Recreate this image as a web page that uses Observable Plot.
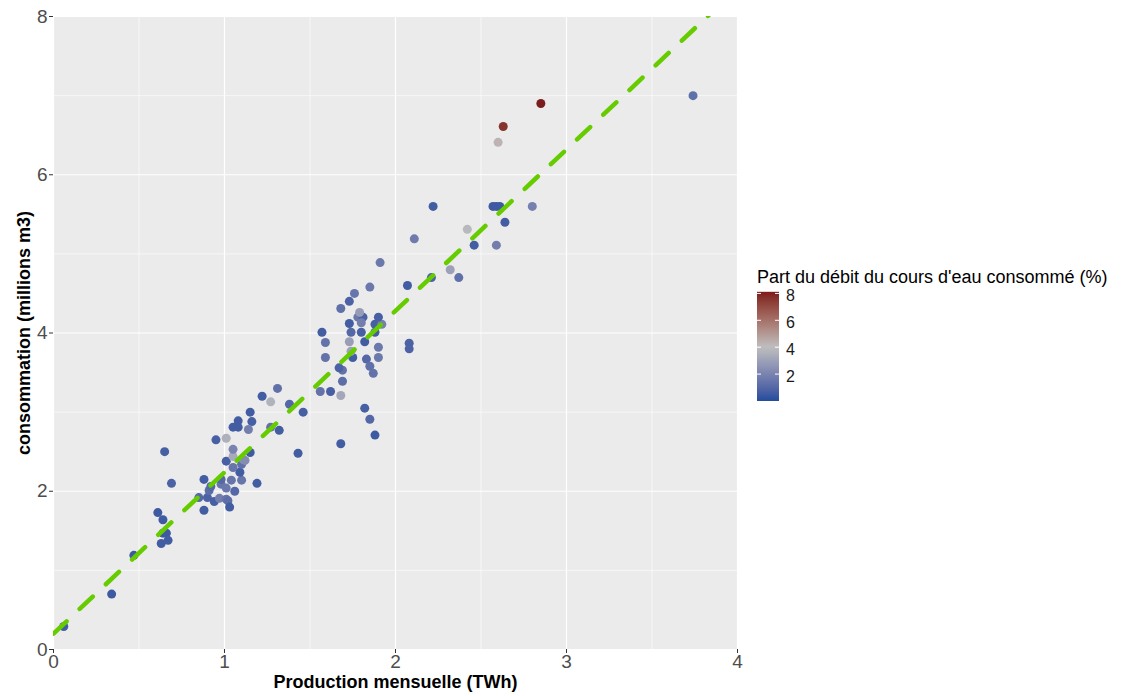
<!DOCTYPE html>
<html><head><meta charset="utf-8">
<script src="https://cdn.jsdelivr.net/npm/d3@7"></script>
<script src="https://cdn.jsdelivr.net/npm/@observablehq/plot@0.6"></script>
<style>
body{margin:0;background:#fff;font-family:"Liberation Sans",Arial,sans-serif;}
#wrap{position:relative;width:1122px;height:696px;overflow:hidden;}
#wrap svg{position:absolute;left:0;top:0;}
</style></head><body><div id="wrap"></div>
<script>
// Data
const production = [0.06,0.34,0.47,0.61,0.64,0.64,0.66,0.63,0.67,0.65,0.69,0.88,0.90,0.88,0.85,0.91,0.92,0.94,0.95,1.01,
 0.98,0.98,0.97,1.01,1.02,1.01,1.03,1.04,1.06,1.10,1.09,1.05,1.10,1.01,1.05,1.11,1.12,1.05,1.15,1.19,
 1.08,1.05,1.08,1.16,1.15,1.14,1.22,1.27,1.31,1.27,1.32,1.38,1.46,1.43,1.56,1.62,1.68,1.69,1.69,1.67,
 1.68,1.82,1.85,1.88,1.59,1.75,1.83,1.85,1.87,1.90,1.90,1.74,1.73,1.82,1.59,1.57,1.74,1.80,1.88,1.73,
 1.88,1.92,1.90,1.78,1.81,1.80,1.79,1.68,1.73,1.76,1.85,1.91,2.07,2.08,2.08,2.11,2.21,2.22,2.32,2.37,
 2.42,2.46,2.59,2.57,2.59,2.61,2.64,2.80,2.60,2.63,2.85,3.74];
const consommation = [0.29,0.70,1.19,1.73,1.64,1.47,1.47,1.34,1.38,2.50,2.10,2.15,1.92,1.76,1.92,2.01,2.06,1.87,2.65,2.67,
 2.09,2.15,1.91,1.90,1.88,2.04,1.80,2.14,2.00,2.14,2.24,2.30,2.34,2.38,2.44,2.40,2.39,2.53,2.49,2.10,
 2.89,2.81,2.81,2.88,3.00,2.78,3.20,3.13,3.30,2.81,2.77,3.10,3.00,2.48,3.26,3.26,3.21,3.39,3.53,3.56,
 2.60,3.05,2.91,2.71,3.69,3.69,3.67,3.58,3.49,3.69,3.82,3.77,3.89,3.89,3.88,4.01,4.01,4.01,4.01,4.12,
 4.11,4.11,4.20,4.20,4.20,4.13,4.26,4.31,4.40,4.50,4.58,4.89,4.60,3.87,3.80,5.19,4.70,5.60,4.80,4.70,
 5.31,5.11,5.11,5.60,5.60,5.60,5.40,5.60,6.41,6.61,6.90,7.00];
const partConsommee = [0.6,0.5,0.5,0.5,0.5,0.5,0.5,0.6,0.6,0.7,0.8,0.6,0.8,0.6,1.0,1.2,1.0,0.7,0.7,3.5,
 1.5,1.0,1.8,1.5,1.2,1.6,0.6,1.5,1.0,1.5,0.6,1.5,1.3,0.7,3.3,2.5,2.3,2.0,0.5,0.6,
 0.6,0.6,0.6,0.7,0.6,1.8,0.6,3.6,1.3,1.3,0.6,1.0,0.7,0.6,1.4,0.7,3.2,1.2,1.4,0.8,
 0.6,0.7,1.0,0.5,1.4,0.6,1.0,1.3,1.4,1.6,1.6,3.0,2.9,0.6,1.4,0.6,1.0,0.7,0.6,0.6,
 0.7,1.9,0.7,1.6,0.8,1.8,2.8,1.3,0.8,1.5,1.6,1.6,0.6,0.8,0.8,1.7,0.8,0.6,3.0,1.3,
 3.8,0.6,1.8,0.5,0.5,0.5,0.6,1.9,4.3,7.6,8.1,1.3];
const fitX = [0, 4];
const fitY = [0.2, 0.2 + 2.04 * 4];
const xTicks = [0, 1, 2, 3, 4];
const yTicks = [0, 2, 4, 6, 8];
const xMinor = [0.5, 1.5, 2.5, 3.5];
const yMinor = [1, 3, 5, 7];
const legendTicks = [2, 4, 6, 8];
const xTitle = "Production mensuelle (TWh)";
const yTitle = "consommation (millions m3)";
const legendTitle = "Part du débit du cours d'eau consommé (%)";

const points = production.map((x, i) => ({x, y: consommation[i], c: partConsommee[i]}));
const fit = fitX.map((x, i) => ({x, y: fitY[i]}));

const colorOpts = {type: "linear", domain: [0, 4, 8.12], range: ["#214d9d", "#bfbfbf", "#7c1c1c"], interpolate: "lab"};

const chart = Plot.plot({
  width: 1122, height: 696,
  marginLeft: 53, marginRight: 385, marginTop: 16, marginBottom: 47,
  style: {fontFamily: "'Liberation Sans', Arial, sans-serif", background: "transparent"},
  x: {domain: [0, 4]},
  y: {domain: [0, 8]},
  color: colorOpts,
  marks: [
    Plot.frame({fill: "#ebebeb", stroke: null}),
    Plot.gridX(xMinor, {stroke: "#ffffff", strokeOpacity: 1, strokeWidth: 0.6}),
    Plot.gridY(yMinor, {stroke: "#ffffff", strokeOpacity: 1, strokeWidth: 0.6}),
    Plot.gridX(xTicks, {stroke: "#ffffff", strokeOpacity: 1, strokeWidth: 1.2}),
    Plot.gridY(yTicks, {stroke: "#ffffff", strokeOpacity: 1, strokeWidth: 1.2}),
    Plot.axisX({ticks: xTicks, tickFormat: d3.format("d"), tickSize: 4, tickPadding: 1, fontSize: 19, color: "#4d4d4d", stroke: "#333", label: null}),
    Plot.axisY({ticks: yTicks, tickFormat: d3.format("d"), tickSize: 4, tickPadding: 2, fontSize: 19, color: "#4d4d4d", stroke: "#333", label: null}),
    Plot.dot(points, {x: "x", y: "y", fill: "c", r: 4.5, stroke: null}),
    Plot.line(fit, {x: "x", y: "y", stroke: "#66cc00", strokeWidth: 4.5, strokeDasharray: "18 18", clip: "frame"}),
    Plot.text([xTitle], {text: d => d, frameAnchor: "bottom", textAnchor: "middle", dy: 38, fontWeight: "bold", fontSize: 18, fill: "#000"}),
    Plot.text([yTitle], {text: d => d, frameAnchor: "left", textAnchor: "middle", dx: -29, rotate: -90, fontWeight: "bold", fontSize: 18, fill: "#000"})
  ]
});
document.getElementById("wrap").appendChild(chart);

// Colour bar legend (vertical, ggplot style)
const cs = Plot.scale({color: colorOpts});
const ly = d3.scaleLinear().domain([0, 8.12]).range([401, 291.8]);
const svg = d3.select("#wrap").append("svg").attr("width", 1122).attr("height", 696)
  .style("font-family", "'Liberation Sans', Arial, sans-serif");
const grad = svg.append("defs").append("linearGradient").attr("id", "cbar")
  .attr("x1", 0).attr("y1", 1).attr("x2", 0).attr("y2", 0);
d3.range(0, 21).forEach(i => {
  const v = 8.12 * i / 20;
  grad.append("stop").attr("offset", i / 20).attr("stop-color", cs.apply(v));
});
svg.append("text").attr("x", 757).attr("y", 283).attr("font-size", 18).attr("fill", "#000").text(legendTitle);
svg.append("rect").attr("x", 757).attr("y", ly(8.12)).attr("width", 22).attr("height", ly(0) - ly(8.12)).attr("fill", "url(#cbar)");
legendTicks.forEach(t => {
  svg.append("line").attr("x1", 757).attr("x2", 761).attr("y1", ly(t)).attr("y2", ly(t)).attr("stroke", "#fff").attr("stroke-width", 1);
  svg.append("line").attr("x1", 775).attr("x2", 779).attr("y1", ly(t)).attr("y2", ly(t)).attr("stroke", "#fff").attr("stroke-width", 1);
  svg.append("text").attr("x", 786).attr("y", ly(t) + 2).attr("dy", "0.35em").attr("font-size", 16).attr("fill", "#1a1a1a").text(t);
});
</script></body></html>
